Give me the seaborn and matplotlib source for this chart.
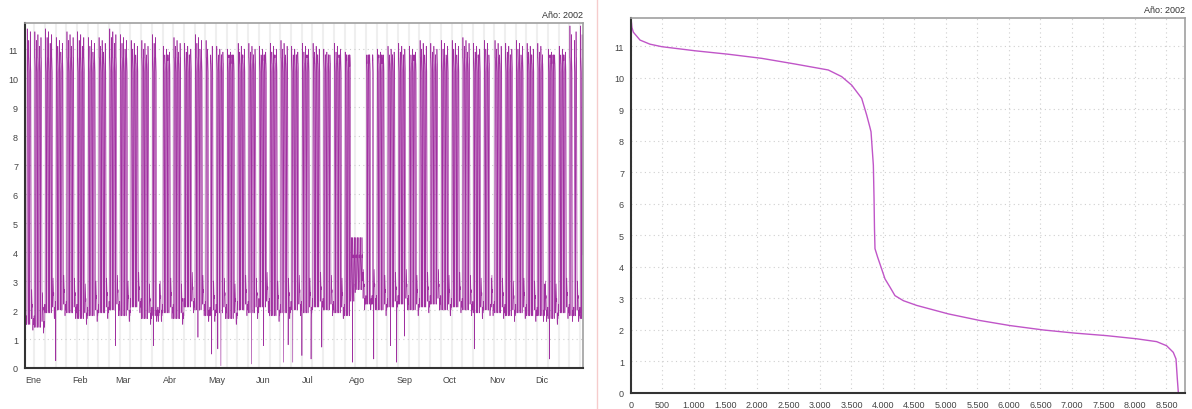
import matplotlib
matplotlib.use("Agg")
import matplotlib.pyplot as plt
from matplotlib.lines import Line2D
from matplotlib.ticker import FuncFormatter, MultipleLocator
import seaborn as sns
import pandas as pd
import numpy as np

# hourly shape of a working day, a saturday and a sunday / holiday
WORKDAY_PROFILE = [2.2, 2.0, 1.9, 1.9, 1.9, 2.1, 4.5, 8.8, 6.5, 10.5, 10.8, 10.9,
                   10.8, 10.7, 10.7, 10.6, 10.5, 10.5, 10.4, 10.3, 10.2, 8.8, 6.6, 3.9]
SATURDAY_PROFILE = [3.0, 2.6, 2.3, 2.1, 2.1, 2.2, 2.4, 2.7, 2.9, 3.0, 3.1, 3.0,
                    2.9, 2.8, 2.7, 2.6, 2.6, 2.5, 2.5, 2.6, 2.6, 2.5, 2.4, 2.3]
SUNDAY_PROFILE = [2.0, 1.9, 1.8, 1.7, 1.7, 1.7, 1.8, 1.9, 2.0, 2.1, 2.1, 2.0,
                  2.0, 1.9, 1.9, 1.9, 2.0, 2.0, 2.1, 2.1, 2.0, 2.0, 2.1, 2.2]
VACATION_PROFILE = [2.6, 2.5, 2.4, 2.4, 2.5, 2.8, 3.3, 3.7, 4.0, 4.3, 4.5, 4.4,
                    4.2, 4.0, 3.9, 3.8, 3.9, 3.8, 3.6, 3.4, 3.2, 3.0, 2.8, 2.7]

# highest value of each week (monday based, week 0 starts tue 1 jan)
WEEKLY_PEAK = [11.8, 11.6, 11.7, 11.4, 11.6, 11.6, 11.4, 11.4, 11.7, 11.5, 11.3, 11.3,
               11.5, 11.1, 11.4, 11.2, 11.5, 11.3, 11.1, 11.0, 11.2, 11.2, 11.1, 11.2,
               11.3, 11.1, 11.2, 11.2, 11.0, 11.2, 10.9, 10.8, 10.8, 11.0, 11.1, 11.2,
               11.1, 11.3, 11.2, 11.3, 11.3, 11.4, 11.2, 11.3, 11.3, 11.2, 11.3, 11.2,
               11.2, 11.0, 11.1, 11.8, 11.8]
# lowest night value of each week
WEEKLY_FLOOR = [1.3, 1.2, 1.7, 1.8, 1.7, 1.5, 1.6, 1.7, 1.8, 1.6, 1.9, 1.5,
                1.6, 1.7, 1.5, 1.9, 1.8, 1.6, 1.7, 1.5, 1.8, 1.7, 1.9, 1.6,
                1.7, 1.8, 1.7, 1.9, 1.8, 1.7, 1.6, 2.0, 2.0, 1.8, 1.9, 2.0,
                1.8, 1.9, 2.0, 1.8, 1.9, 1.8, 1.7, 1.8, 1.7, 1.6, 1.7, 1.6,
                1.6, 1.5, 1.7, 1.6, 1.5]
PEAK_OFFSET = [0.0, -0.3, -0.1, -0.5, -0.2]  # mon..fri

HOLIDAYS = [0, 86, 87, 120, 226, 304, 339, 358]
VACATION_DAYS = list(range(213, 221))

# short drops towards zero: (day of year, value)
DIP_DAYS = [20, 59, 84, 113, 122, 126, 128, 148, 156, 169, 172, 175,
            181, 187, 194, 214, 228, 239, 243, 248, 294, 343]
DIP_VALUES = [0.25, 0.77, 0.77, 1.06, 0.48, 0.66, 0.08, 0.14, 0.77, 0.2, 0.8, 0.2,
              0.43, 0.31, 0.72, 0.2, 0.31, 0.77, 0.2, 1.1, 0.66, 0.31]

MONTHS = ["Ene", "Feb", "Mar", "Abr", "May", "Jun", "Jul", "Ago", "Sep", "Oct", "Nov", "Dic"]
MONTH_START = [0, 31, 59, 90, 120, 151, 181, 212, 243, 273, 304, 334]

# sorted (duration) curve
DUR_HOURS = [0, 15, 37, 143, 300, 487, 1016, 1545, 2074, 2603, 3132, 3344, 3503, 3662,
             3741, 3790, 3810, 3847, 3858, 3865, 3873, 3915, 3968, 4032, 4111, 4190,
             4323, 4534, 5037, 5540, 6016, 6545, 7048, 7550, 8026, 8344, 8502, 8608,
             8651, 8672, 8688]
DUR_VALUES = [11.9, 11.6, 11.45, 11.2, 11.07, 10.99, 10.86, 10.75, 10.62, 10.44, 10.25,
              10.04, 9.77, 9.35, 8.82, 8.45, 8.29, 7.23, 6.17, 5.21, 4.58, 4.31, 4.0,
              3.62, 3.36, 3.09, 2.93, 2.78, 2.51, 2.30, 2.14, 2.0, 1.90, 1.82, 1.72,
              1.63, 1.50, 1.29, 1.08, 0.45, 0.02]


def build_hourly() -> pd.DataFrame:
    values = []
    for d in range(365):
        dow = (d + 1) % 7
        week = (d + 1) // 7
        if d in VACATION_DAYS:
            prof = list(VACATION_PROFILE)
        elif dow == 6 or d in HOLIDAYS:
            prof = list(SUNDAY_PROFILE)
        elif dow == 5:
            prof = list(SATURDAY_PROFILE)
        else:
            prof = list(WORKDAY_PROFILE)
            prof[11] = WEEKLY_PEAK[week] + PEAK_OFFSET[dow]
        shift = WEEKLY_FLOOR[week] - 1.7
        prof = [v + shift if v < 3.5 else v for v in prof]
        values.extend(prof)
    for d, v in zip(DIP_DAYS, DIP_VALUES):
        values[d * 24 + 3] = v
    hours = np.arange(len(values))
    return pd.DataFrame({"day": hours / 24.0, "value": values})


def style_axes(ax):
    for side in ["left", "bottom"]:
        ax.spines[side].set_color("#333333")
        ax.spines[side].set_linewidth(1.5)
    for side in ["top", "right"]:
        ax.spines[side].set_color("#a0a0a0")
        ax.spines[side].set_linewidth(1.2)
    ax.set_ylim(0, 11.9)
    ax.yaxis.set_major_locator(MultipleLocator(1))
    ax.yaxis.set_minor_locator(MultipleLocator(0.5))
    ax.tick_params(axis="both", labelsize=6.5, colors="#444444", length=3, width=0.8,
                   direction="out", pad=2)
    ax.tick_params(axis="y", which="minor", length=2, width=0.6, colors="#444444")
    ax.grid(axis="y", color="#cfcfcf", linestyle=(0, (1, 3)), linewidth=0.8)
    ax.set_xlabel("")
    ax.set_ylabel("")


sns.set_theme(style="white")
plt.rcParams["font.family"] = ["Liberation Sans", "DejaVu Sans"]

fig = plt.figure(figsize=(11.92, 4.10), dpi=100)
ax1 = fig.add_axes([25 / 1192, 1 - 369 / 410, 558 / 1192, 345 / 410])
ax2 = fig.add_axes([631 / 1192, 1 - 394 / 410, 554 / 1192, 375 / 410])

hourly = build_hourly()

# left: hourly series over the year (thin stroke, antialiasing gives the shading)
for wk in range(6, 365, 7):
    ax1.axvline(wk, color="#efefef", linewidth=1.5, zorder=0)
sns.lineplot(data=hourly, x="day", y="value", ax=ax1, estimator=None, sort=False,
             color="#a030a0", linewidth=0.45)
ax1.set_xlim(0, 365)
style_axes(ax1)
ax1.set_xticks(MONTH_START)
ax1.set_xticklabels(MONTHS, ha="left")
ax1.tick_params(axis="x", length=3, pad=2)
ax1.set_title("Año: 2002", loc="right", fontsize=6.5, color="#333333", pad=4)

# right: duration curve
dur = pd.DataFrame({"hours": DUR_HOURS, "value": DUR_VALUES})
sns.lineplot(data=dur, x="hours", y="value", ax=ax2, estimator=None, sort=False,
             color="#c055c8", linewidth=1.0)
ax2.set_xlim(0, 8794)
style_axes(ax2)
ax2.xaxis.set_major_locator(MultipleLocator(500))
ax2.xaxis.set_major_formatter(FuncFormatter(lambda v, p: f"{int(v):,}".replace(",", ".")))
ax2.grid(axis="x", color="#cfcfcf", linestyle=(0, (1, 3)), linewidth=0.8)
ax2.set_title("Año: 2002", loc="right", fontsize=6.5, color="#333333", pad=4)

# thin separator between the two panels
fig.add_artist(Line2D([597 / 1192, 597 / 1192], [0, 1], color="#f6cccc", linewidth=1))

fig.savefig("out.png", dpi=100)
